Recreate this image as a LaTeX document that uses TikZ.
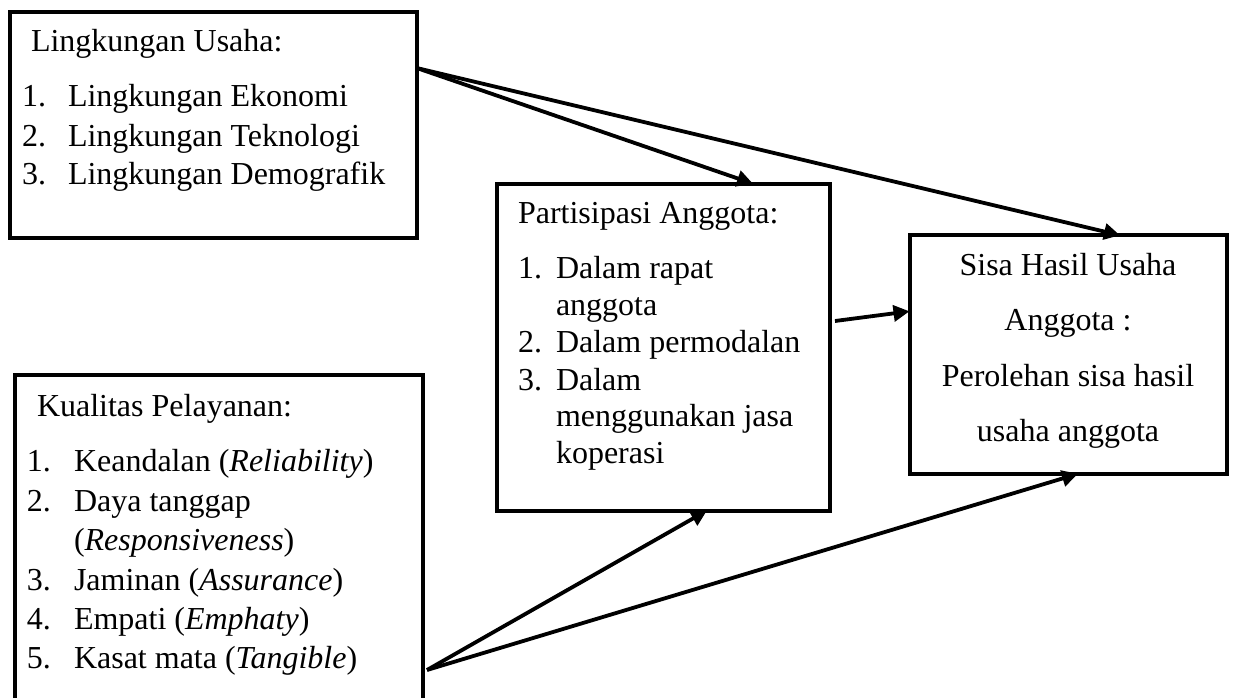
\documentclass[tikz,border=0pt]{standalone}
\usepackage{fontspec}
\setmainfont{Liberation Serif}
\usetikzlibrary{arrows.meta,calc}
\tikzset{
  box/.style={draw, line width=4pt, rectangle, inner sep=0pt, outer sep=0pt, anchor=north west},
  txt/.style={inner sep=0pt, outer sep=0pt, anchor=base west, font=\fontsize{32}{38}\selectfont},
  ctxt/.style={txt, anchor=base},
  conn/.style={line width=3.8pt, -{Triangle[length=16pt,width=16pt]}}
}
\begin{document}
\begin{tikzpicture}[x=1pt,y=-1pt]
\useasboundingbox (0,0) rectangle (1235,698);
\clip (0,0) rectangle (1235,698);
% boxes
\node[box, minimum width=407.2pt, minimum height=225.8pt] (A) at (9.5,11.7) {};
\node[box, minimum width=332.7pt, minimum height=326.8pt] (B) at (497,183.7) {};
\node[box, minimum width=317pt, minimum height=238.5pt] (C) at (909.5,235.3) {};
\node[box, minimum width=408.3pt, minimum height=360pt] (D) at (14.7,375) {};
% box A text
\node[txt] (a0) at (31,52) {Lingkungan Usaha:};
\node[txt] (a1n) at (22,107) {1.};
\node[txt] (a1) at (68,107) {Lingkungan Ekonomi};
\node[txt] (a2n) at (22,147) {2.};
\node[txt] (a2) at (68,147) {Lingkungan Teknologi};
\node[txt] (a3n) at (22,185) {3.};
\node[txt] (a3) at (68,185) {Lingkungan Demografik};
% box B text
\node[txt] (b0) at (518,223) {Partisipasi Anggota:};
\node[txt] (b1n) at (518,278.3) {1.};
\node[txt] (b1) at (556,278.3) {Dalam rapat};
\node[txt] (b1b) at (556,315) {anggota};
\node[txt] (b2n) at (518,352.7) {2.};
\node[txt] (b2) at (556,352.7) {Dalam permodalan};
\node[txt] (b3n) at (518,390) {3.};
\node[txt] (b3) at (556,390) {Dalam};
\node[txt] (b3b) at (556,426.7) {menggunakan jasa};
\node[txt] (b3c) at (556,463.3) {koperasi};
% box C text
\node[ctxt] (c1) at (1068,275) {Sisa Hasil Usaha};
\node[ctxt] (c2) at (1068,330) {Anggota :};
\node[ctxt] (c3) at (1068,386.7) {Perolehan sisa hasil};
\node[ctxt] (c4) at (1068,441) {usaha anggota};
% box D text
\node[txt] (d0) at (37,416.7) {Kualitas Pelayanan:};
\node[txt] (d1n) at (27,471.7) {1.};
\node[txt] (d1) at (74,471.7) {Keandalan (\textit{Reliability})};
\node[txt] (d2n) at (27,511) {2.};
\node[txt] (d2) at (74,511) {Daya tanggap};
\node[txt] (d2b) at (74,550) {(\textit{Responsiveness})};
\node[txt] (d3n) at (27,590.7) {3.};
\node[txt] (d3) at (74,590.7) {Jaminan (\textit{Assurance})};
\node[txt] (d4n) at (27,629) {4.};
\node[txt] (d4) at (74,629) {Empati (\textit{Emphaty})};
\node[txt] (d5n) at (27,668) {5.};
\node[txt] (d5) at (74,668) {Kasat mata (\textit{Tangible})};
% connector endpoints
\coordinate (aout) at ($(A.north east)+(0,56.3)$);
\coordinate (dout) at ($(D.north east)+(4,295)$);
\coordinate (bout) at ($(B.north east)+(5.3,137.3)$);
% connectors
\draw[conn] (aout) -- ($(B.north west)+(256,0)$);
\draw[conn] (aout) -- ($(C.north west)+(210.5,0)$);
\draw[conn] (bout) -- ($(C.north west)+(0,76)$);
\draw[conn] (dout) -- ($(B.south west)+(210,0)$);
\draw[conn] (dout) -- ($(C.south west)+(168.5,0)$);
\end{tikzpicture}
\end{document}
